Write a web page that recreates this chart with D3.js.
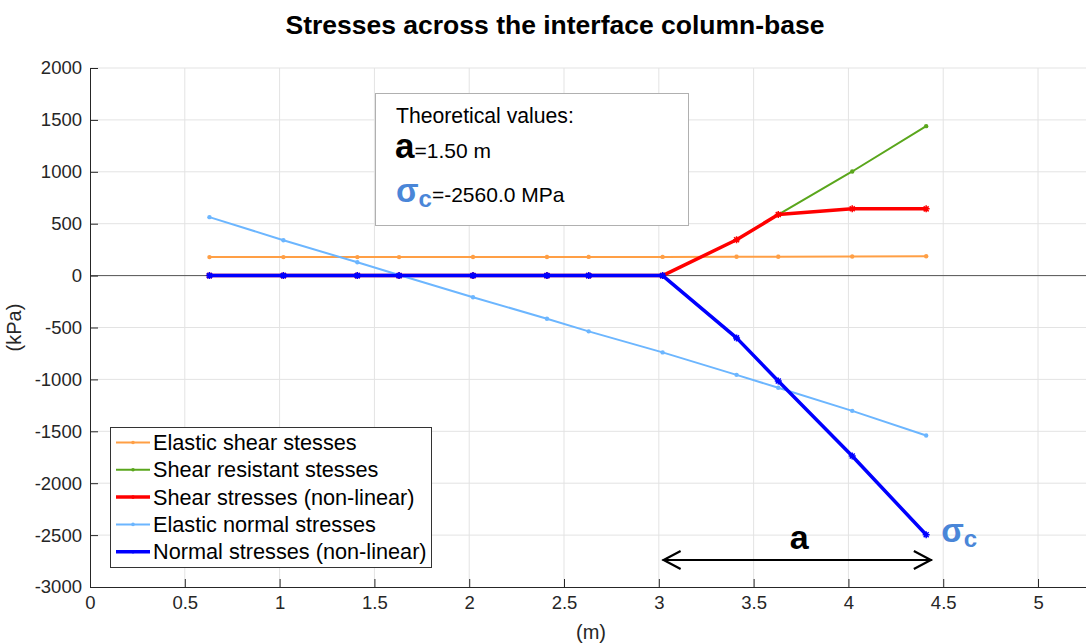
<!DOCTYPE html>
<html>
<head>
<meta charset="utf-8">
<script src="https://cdn.jsdelivr.net/npm/d3@7"></script>
<style>
  html, body { margin: 0; padding: 0; background: #fff; }
  svg { display: block; font-family: "Liberation Sans", Arial, sans-serif; }
</style>
</head>
<body>
<svg id="chart" width="1086" height="644"></svg>
<script>
// Positions along the interface (m)
const positions = [0.63, 1.02, 1.41, 1.63, 2.02, 2.41, 2.63, 3.02, 3.41, 3.63, 4.02, 4.41];

// Stress series (kPa)
const elasticShear     = [178, 178, 178, 178, 179, 179, 180, 180, 181, 182, 184, 187];
const shearResistant   = [0, 0, 0, 0, 0, 0, 0, 0, 345, 588, 1003, 1440];
const shearNonLinear   = [0, 0, 0, 0, 0, 0, 0, 0, 345, 588, 644, 643];
const elasticNormal    = [563, 341, 128, 6, -209, -415, -537, -740, -956, -1081, -1303, -1541];
const normalNonLinear  = [0, 0, 0, 0, 0, 0, 0, 0, -600, -1016, -1738, -2497];

const seriesNames  = ["Elastic shear stesses", "Shear resistant stesses", "Shear stresses (non-linear)",
                      "Elastic normal stresses", "Normal stresses (non-linear)"];
const seriesValues = [elasticShear, shearResistant, shearNonLinear, elasticNormal, normalNonLinear];
const seriesColors = ["#ff9f45", "#5aa61c", "#ff0000", "#6cb6ff", "#0000ff"];
const seriesWidths = [2, 2, 3.5, 2, 3.5];

const xTicks = [0, 0.5, 1, 1.5, 2, 2.5, 3, 3.5, 4, 4.5, 5];
const yTicks = [2000, 1500, 1000, 500, 0, -500, -1000, -1500, -2000, -2500, -3000];

// Theoretical values
const theoreticalA = 1.50;       // m
const theoreticalSigma = -2560.0;
const aStart = 3.02, aEnd = 4.44; // extent of the dimension arrow (m)

const svg = d3.select("#chart");
const margin = { left: 90, right: 0, top: 68, bottom: 57 };
const W = 1086, H = 644;

const x = d3.scaleLinear().domain([0, 5.253]).range([margin.left, W - margin.right]);
const y = d3.scaleLinear().domain([-3000, 2000]).range([H - margin.bottom, margin.top]);

const sigmaColor = "#4a86d8";
const axisColor = "#262626";

// Grid
const grid = svg.append("g");
grid.selectAll(".gx").data(xTicks.slice(1)).join("line")
  .attr("x1", d => x(d)).attr("x2", d => x(d))
  .attr("y1", y(-3000)).attr("y2", y(2000))
  .attr("stroke", "#e3e3e3").attr("stroke-width", 1);
grid.selectAll(".gy").data(yTicks.slice(0, -1)).join("line")
  .attr("x1", x(0)).attr("x2", W)
  .attr("y1", d => y(d)).attr("y2", d => y(d))
  .attr("stroke", "#e3e3e3").attr("stroke-width", 1);

// Zero reference line
svg.append("line")
  .attr("x1", x(0)).attr("x2", W)
  .attr("y1", y(0)).attr("y2", y(0))
  .attr("stroke", "#555").attr("stroke-width", 1);

// Axes (ticks drawn inside the plot area)
const xAxis = d3.axisBottom(x).tickValues(xTicks).tickSize(-8).tickPadding(9).tickFormat(d3.format("~g"));
const yAxis = d3.axisLeft(y).tickValues(yTicks).tickSize(-8).tickPadding(8).tickFormat(d => d);

const gx = svg.append("g").attr("transform", `translate(0,${y(-3000)})`).call(xAxis);
const gy = svg.append("g").attr("transform", `translate(${x(0)},0)`).call(yAxis);
[gx, gy].forEach(g => {
  g.select(".domain").attr("stroke", axisColor).attr("stroke-width", 1);
  g.selectAll(".tick line").attr("stroke", axisColor);
  g.selectAll(".tick text").attr("fill", axisColor).style("font-size", "18.5px")
    .style("font-family", "'Liberation Sans', Arial, sans-serif");
});
gx.select(".domain").attr("d", `M${x(0)},0.5H${W}`);
gy.select(".domain").attr("d", `M0.5,${y(-3000)}V${y(2000)}`);

// Axis labels
svg.append("text").attr("x", 591).attr("y", 639)
  .attr("text-anchor", "middle").attr("fill", axisColor).style("font-size", "20px").text("(m)");
svg.append("text").attr("transform", `translate(21,${(y(2000) + y(-3000)) / 2}) rotate(-90)`)
  .attr("text-anchor", "middle").attr("fill", axisColor).style("font-size", "20px").text("(kPa)");

// Title
svg.append("text").attr("x", 555).attr("y", 34).attr("text-anchor", "middle")
  .attr("fill", "#000").style("font-size", "26.5px").style("font-weight", "bold")
  .text("Stresses across the interface column-base");

// Series lines and markers
const line = d3.line().x(d => x(d[0])).y(d => y(d[1]));
seriesValues.forEach((vals, i) => {
  const pts = positions.map((p, k) => [p, vals[k]]);
  const g = svg.append("g");
  g.append("path").datum(pts).attr("d", line)
    .attr("fill", "none").attr("stroke", seriesColors[i]).attr("stroke-width", seriesWidths[i])
    .attr("stroke-linejoin", "round");
  if (seriesWidths[i] > 2.5) {
    g.selectAll("path.m").data(pts).join("path")
      .attr("d", d => {
        const cx = x(d[0]), cy = y(d[1]), r = 3.5;
        return `M${cx - r},${cy}H${cx + r}M${cx},${cy - r}V${cy + r}M${cx - 2.5},${cy - 2.5}L${cx + 2.5},${cy + 2.5}M${cx - 2.5},${cy + 2.5}L${cx + 2.5},${cy - 2.5}`;
      })
      .attr("stroke", seriesColors[i]).attr("stroke-width", 1.5);
  } else {
    g.selectAll("circle").data(pts).join("circle")
      .attr("cx", d => x(d[0])).attr("cy", d => y(d[1])).attr("r", 2.2)
      .attr("fill", seriesColors[i]);
  }
});

// Legend
const legend = svg.append("g").attr("transform", "translate(110,427)");
legend.append("rect").attr("x", 0.5).attr("y", 0.5).attr("width", 321).attr("height", 140)
  .attr("fill", "#fff").attr("stroke", "#333").attr("stroke-width", 1);
seriesNames.forEach((name, i) => {
  const ly = 15.5 + i * 27.3;
  legend.append("line").attr("x1", 6).attr("x2", 40).attr("y1", ly).attr("y2", ly)
    .attr("stroke", seriesColors[i]).attr("stroke-width", seriesWidths[i]);
  legend.append("circle").attr("cx", 23).attr("cy", ly).attr("r", 1.8).attr("fill", seriesColors[i]);
  legend.append("text").attr("x", 43).attr("y", ly + 7.5).attr("fill", "#000")
    .style("font-size", "21.7px").text(name);
});

// Theoretical values box
const box = svg.append("g").attr("transform", "translate(375,93)");
box.append("rect").attr("x", 0.5).attr("y", 0.5).attr("width", 313).attr("height", 132)
  .attr("fill", "#fff").attr("stroke", "#b0b0b0").attr("stroke-width", 1);
box.append("text").attr("x", 21).attr("y", 30).attr("fill", "#000").style("font-size", "21.2px")
  .text("Theoretical values:");
const tA = box.append("text").attr("x", 20).attr("y", 65).attr("fill", "#000");
tA.append("tspan").style("font-size", "35px").style("font-weight", "bold").text("a");
tA.append("tspan").style("font-size", "21px").text(`=${theoreticalA.toFixed(2)} m`);
const tS = box.append("text").attr("x", 21).attr("y", 109).attr("fill", "#000");
tS.append("tspan").style("font-size", "33px").style("font-weight", "bold").attr("fill", sigmaColor).text("σ");
tS.append("tspan").attr("dy", 5).style("font-size", "24px").style("font-weight", "bold").attr("fill", sigmaColor).text("c");
tS.append("tspan").attr("dy", -5).style("font-size", "21px").text(`=${theoreticalSigma.toFixed(1)} MPa`);

// Dimension arrow for "a"
const arrowY = 560;
const ax1 = x(aStart), ax2 = x(aEnd);
svg.append("line").attr("x1", ax1).attr("x2", ax2).attr("y1", arrowY).attr("y2", arrowY)
  .attr("stroke", "#000").attr("stroke-width", 2.2);
svg.append("path")
  .attr("d", `M${ax1 + 18},${arrowY - 9}L${ax1 + 1},${arrowY}L${ax1 + 18},${arrowY + 9}M${ax2 - 18},${arrowY - 9}L${ax2 - 1},${arrowY}L${ax2 - 18},${arrowY + 9}`)
  .attr("fill", "none").attr("stroke", "#000").attr("stroke-width", 2.2);
svg.append("text").attr("x", (ax1 + ax2) / 2 + 2).attr("y", 549).attr("text-anchor", "middle")
  .attr("fill", "#000").style("font-size", "34px").style("font-weight", "bold").text("a");

// σc label at the edge point
const tE = svg.append("text").attr("x", x(positions[positions.length - 1]) + 15).attr("y", 542).attr("fill", sigmaColor)
  .style("font-weight", "bold");
tE.append("tspan").style("font-size", "33px").text("σ");
tE.append("tspan").attr("dy", 5).style("font-size", "24px").text("c");
</script>
</body>
</html>
